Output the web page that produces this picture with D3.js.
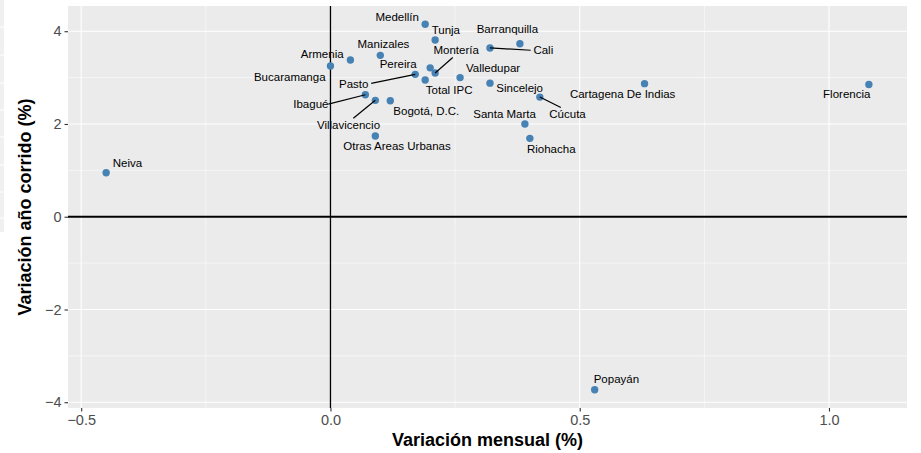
<!DOCTYPE html>
<html>
<head>
<meta charset="utf-8">
<script src="https://cdn.jsdelivr.net/npm/d3@7"></script>
<style>
  html, body { margin: 0; padding: 0; background: #ffffff; }
  svg { display: block; font-family: "Liberation Sans", Arial, Helvetica, sans-serif; }
</style>
</head>
<body>
<svg id="chart" width="921" height="453"></svg>
<script>
// ---- data ----
const cities = ["Medellín","Tunja","Barranquilla","Cali","Manizales","Armenia","Bucaramanga","Pereira","Montería","Pasto","Valledupar","Total IPC","Sincelejo","Cartagena De Indias","Florencia","Ibagué","Cúcuta","Villavicencio","Bogotá, D.C.","Santa Marta","Otras Areas Urbanas","Riohacha","Neiva","Popayán"];
const variacionMensual = [0.19,0.21,0.38,0.32,0.10,0.04,0.00,0.20,0.21,0.17,0.26,0.19,0.32,0.63,1.08,0.07,0.42,0.09,0.12,0.39,0.09,0.40,-0.45,0.53];
const variacionAnual   = [4.15,3.81,3.73,3.64,3.48,3.38,3.25,3.21,3.10,3.07,3.00,2.95,2.88,2.87,2.85,2.63,2.58,2.51,2.50,2.00,1.74,1.69,0.95,-3.73];
const xTicks = [-0.5, 0, 0.5, 1.0];
const xTickLabels = ["\u22120.5","0.0","0.5","1.0"];
const yTicks = [-4, -2, 0, 2, 4];
const yTickLabels = ["\u22124","\u22122","0","2","4"];
const xTitle = "Variación mensual (%)";
const yTitle = "Variación año corrido (%)";

// ---- label placement (repelled text offsets in px, relative to the point) ----
const labelDx = [-28,10.7,-12.5,53.3,3.1,-28.2,-40.7,-32,21,-61.5,33,24,29.7,-21.9,-22.1,-54.5,27.7,-26.8,36,-20.3,21.7,21.4,21.3,21.7];
const labelDy = [-3.6,-6.4,-11,6.3,-7.6,-2.4,15,0.6,-18.7,14,-6,14.3,8.7,14,13.4,13.3,21,29,14.3,-6.4,14,14.4,-6,-7];
// segment end offsets (null = no segment)
const segDx = [null,null,null,40.7,null,null,null,null,17.6,-44,null,null,null,null,null,-37,21,-22,null,null,null,null,null,null];
const segDy = [null,null,null,2.3,null,null,null,null,-15.4,9,null,null,null,null,null,9.3,10.4,18,null,null,null,null,null,null];

// ---- layout ----
const panel = {left: 68, right: 907, top: 6, bottom: 408};
const svg = d3.select("#chart");

// artifact strip at far left
const strip = svg.append("g");
strip.append("rect").attr("x",0).attr("y",0).attr("width",4).attr("height",232).attr("fill","#f0f0f0");
[27,55,83,110,137,165,192,218].forEach(yy => strip.append("line").attr("x1",0).attr("x2",4).attr("y1",yy).attr("y2",yy).attr("stroke","#ffffff").attr("stroke-width",1));

function expand(ext, f) { const r = ext[1]-ext[0]; return [ext[0]-r*f, ext[1]+r*f]; }
const x = d3.scaleLinear().domain(expand(d3.extent(variacionMensual), 0.05)).range([panel.left, panel.right]);
const y = d3.scaleLinear().domain(expand(d3.extent(variacionAnual), 0.05)).range([panel.bottom, panel.top]);

// panel background
svg.append("rect").attr("x",panel.left).attr("y",panel.top)
  .attr("width",panel.right-panel.left).attr("height",panel.bottom-panel.top).attr("fill","#ebebeb");

const grid = svg.append("g");
const xMinor = [-0.25, 0.25, 0.75];
const yMinor = [-3, -1, 1, 3];
xMinor.forEach(v => grid.append("line").attr("x1",x(v)).attr("x2",x(v)).attr("y1",panel.top).attr("y2",panel.bottom).attr("stroke","#fff").attr("stroke-width",0.55));
yMinor.forEach(v => grid.append("line").attr("y1",y(v)).attr("y2",y(v)).attr("x1",panel.left).attr("x2",panel.right).attr("stroke","#fff").attr("stroke-width",0.55));
xTicks.forEach(v => grid.append("line").attr("x1",x(v)).attr("x2",x(v)).attr("y1",panel.top).attr("y2",panel.bottom).attr("stroke","#fff").attr("stroke-width",1.1));
yTicks.forEach(v => grid.append("line").attr("y1",y(v)).attr("y2",y(v)).attr("x1",panel.left).attr("x2",panel.right).attr("stroke","#fff").attr("stroke-width",1.1));

// reference lines
svg.append("line").attr("x1",panel.left).attr("x2",panel.right).attr("y1",y(0)).attr("y2",y(0)).attr("stroke","#000").attr("stroke-width",1.8);
svg.append("line").attr("x1",x(0)).attr("x2",x(0)).attr("y1",panel.top).attr("y2",panel.bottom).attr("stroke","#000").attr("stroke-width",1.3);

// axes
const xAxis = d3.axisBottom(x).tickValues(xTicks).tickFormat((d,i) => xTickLabels[i]).tickSize(3.5).tickPadding(3);
const yAxis = d3.axisLeft(y).tickValues(yTicks).tickFormat((d,i) => yTickLabels[i]).tickSize(3.5).tickPadding(3);
const gx = svg.append("g").attr("transform",`translate(0,${panel.bottom})`).call(xAxis);
const gy = svg.append("g").attr("transform",`translate(${panel.left},0)`).call(yAxis);
[gx, gy].forEach(g => {
  g.select(".domain").remove();
  g.selectAll(".tick line").attr("stroke","#333333").attr("stroke-width",1.1);
  g.selectAll(".tick text").attr("fill","#4d4d4d").style("font-size","14.5px").style("font-family","'Liberation Sans', Arial, sans-serif");
});

// axis titles
svg.append("text").attr("x",(panel.left+panel.right)/2).attr("y",446)
  .attr("text-anchor","middle").style("font-size","18px").style("font-weight","bold").attr("fill","#000").text(xTitle);
svg.append("text").attr("transform",`translate(31,${(panel.top+panel.bottom)/2}) rotate(-90)`)
  .attr("text-anchor","middle").style("font-size","18px").style("font-weight","bold").attr("fill","#000").text(yTitle);

// points
const idx = d3.range(cities.length);
svg.append("g").selectAll("circle").data(idx).join("circle")
  .attr("cx", i => x(variacionMensual[i])).attr("cy", i => y(variacionAnual[i]))
  .attr("r", 3.7).attr("fill", "#4682b4");

// segments
svg.append("g").selectAll("line").data(idx.filter(i => segDx[i] !== null)).join("line")
  .attr("x1", i => x(variacionMensual[i])).attr("y1", i => y(variacionAnual[i]))
  .attr("x2", i => x(variacionMensual[i]) + segDx[i]).attr("y2", i => y(variacionAnual[i]) + segDy[i])
  .attr("stroke","#000").attr("stroke-width",1.2);

// labels
svg.append("g").selectAll("text").data(idx).join("text")
  .attr("x", i => x(variacionMensual[i]) + labelDx[i]).attr("y", i => y(variacionAnual[i]) + labelDy[i])
  .attr("text-anchor","middle").style("font-size","11.5px").attr("fill","#000")
  .text(i => cities[i]);
</script>
</body>
</html>
